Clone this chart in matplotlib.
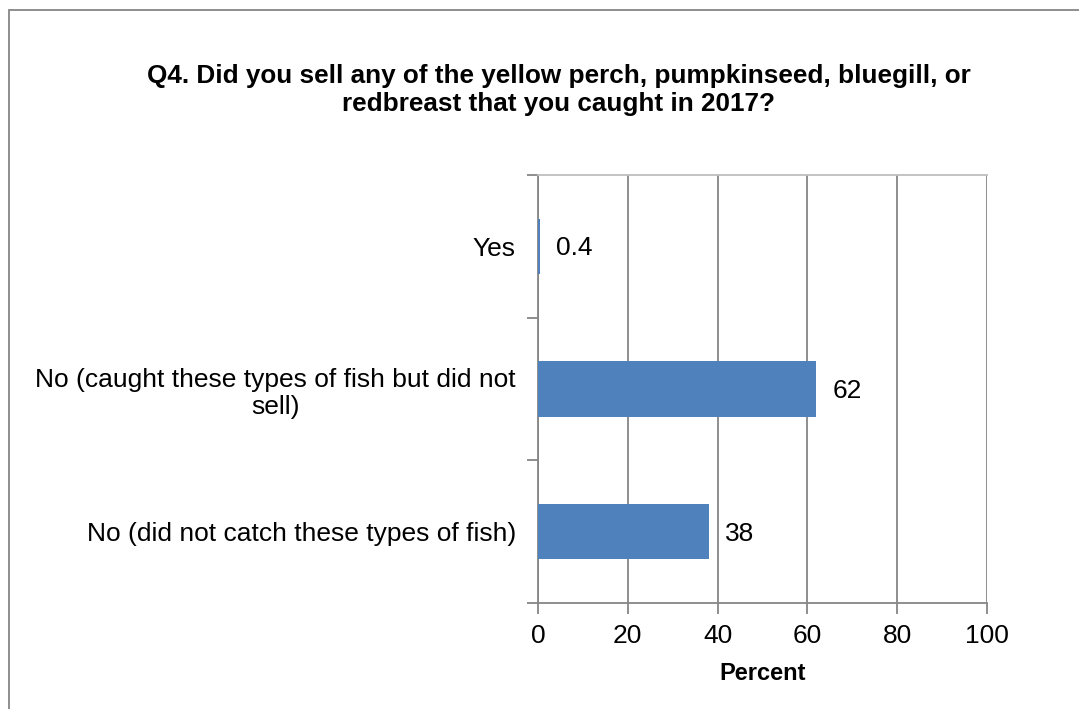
import matplotlib
matplotlib.use("Agg")
import matplotlib.pyplot as plt
from matplotlib.patches import Rectangle
import numpy as np

categories = ["Yes",
              "No (caught these types of fish but did not\nsell)",
              "No (did not catch these types of fish)"]
values = [0.4, 62, 38]
value_labels = ["0.4", "62", "38"]
xticks = [0, 20, 40, 60, 80, 100]

plt.rcParams['font.family'] = ['Liberation Sans', 'DejaVu Sans']

W, H = 1079, 709
fig = plt.figure(figsize=(W / 100, H / 100), dpi=100)
fig.patch.set_facecolor("white")

# outer border (chart area frame)
fig.add_artist(Rectangle((9 / W, -0.1), 1.2, 1 - 10 / H + 0.1, transform=fig.transFigure,
                         fill=False, edgecolor="#868686", linewidth=1.3))

left, right, top, bottom = 538, 987, 175, 603
ax = fig.add_axes([left / W, 1 - bottom / H, (right - left) / W, (bottom - top) / H])

n = len(categories)
ypos = np.arange(n)
bar_color = "#4F81BD"
ax.barh(ypos, values, height=0.39, color=bar_color, zorder=3)
ax.set_ylim(n - 0.5, -0.5)
ax.set_xlim(0, 100)

grid_c = "#868686"
FS = 19
ax.set_xticks(xticks)
ax.set_xticklabels([str(t) for t in xticks], fontsize=FS)
ax.xaxis.grid(True, color=grid_c, linewidth=1.3, zorder=0)
ax.set_axisbelow(True)

# y ticks at category boundaries, labels at centers
ax.set_yticks(np.arange(-0.5, n, 1.0))
ax.set_yticklabels([])
ax.set_yticks(ypos, minor=True)
ax.set_yticklabels(categories, minor=True, fontsize=FS, ha="right", multialignment="center")
ax.tick_params(axis="y", which="minor", length=0, pad=16)
ax.tick_params(axis="y", which="major", length=8, width=1.3, color=grid_c, direction="out")
ax.tick_params(axis="x", length=8, width=1.3, color=grid_c, direction="out", pad=7)

for side in ["left", "bottom"]:
    ax.spines[side].set_color(grid_c)
    ax.spines[side].set_linewidth(1.3)
ax.spines["top"].set_color("#BEBEBE")
ax.spines["top"].set_linewidth(1.3)
ax.spines["right"].set_visible(False)

for y, v, lab in zip(ypos, values, value_labels):
    ax.annotate(lab, (v, y), xytext=(16, -2), textcoords="offset pixels",
                va="center", ha="left", fontsize=FS)

ax.set_xlabel("Percent", fontsize=17, fontweight="bold", labelpad=10)

fig.text(559 / W, 1 - 90 / H,
         "Q4. Did you sell any of the yellow perch, pumpkinseed, bluegill, or\nredbreast that you caught in 2017?",
         ha="center", va="center", fontsize=18.8, fontweight="bold", multialignment="center",
         linespacing=1.18)

fig.savefig("out.png", dpi=100, facecolor="white")
